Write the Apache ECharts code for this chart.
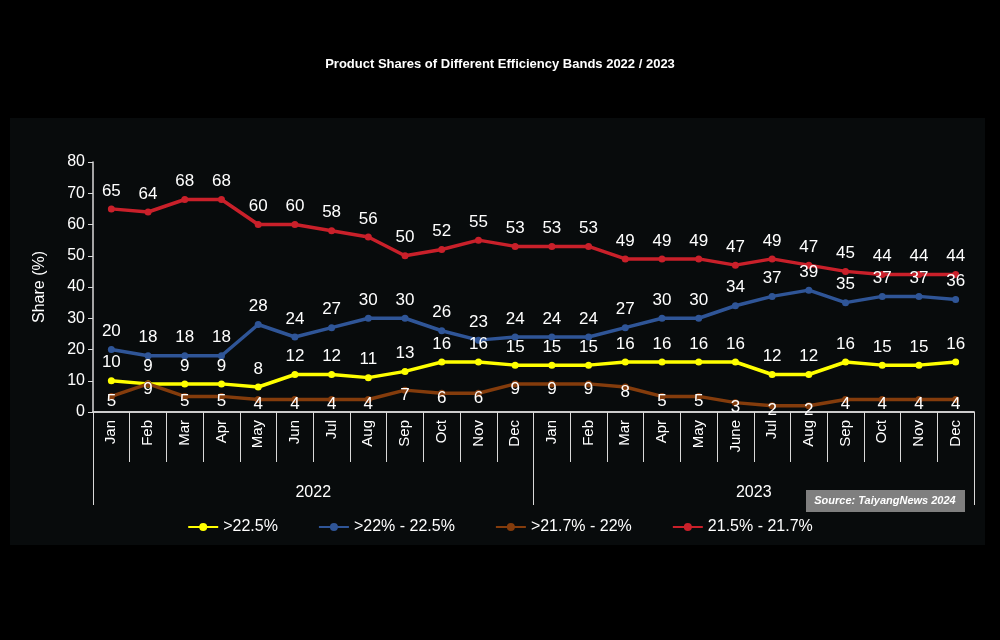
<!DOCTYPE html>
<html><head><meta charset="utf-8">
<script src="https://cdn.jsdelivr.net/npm/echarts@6/dist/echarts.min.js"></script>
<style>html,body{margin:0;background:#000}#c{width:1000px;height:640px}</style>
</head><body><div id="c"></div>
<script>
const months = ['Jan','Feb','Mar','Apr','May','Jun','Jul','Aug','Sep','Oct','Nov','Dec','Jan','Feb','Mar','Apr','May','June','Jul','Aug','Sep','Oct','Nov','Dec'];
const years = ['2022','2023'];
const yellow = [10,9,9,9,8,12,12,11,13,16,16,15,15,15,16,16,16,16,12,12,16,15,15,16];
const blue = [20,18,18,18,28,24,27,30,30,26,23,24,24,24,27,30,30,34,37,39,35,37,37,36];
const brown = [5,9,5,5,4,4,4,4,7,6,6,9,9,9,8,5,5,3,2,2,4,4,4,4];
const red = [65,64,68,68,60,60,58,56,50,52,55,53,53,53,49,49,49,47,49,47,45,44,44,44];
const names = ['>22.5%','>22% - 22.5%','>21.7% - 22%','21.5% - 21.7%'];
const colors = ['#ffff00','#2f5597','#843c0c','#c9202a'];
const lab = {show:true,color:'#fff',fontSize:17,fontFamily:'Liberation Sans'};
function s(i,d,pos,off){return {name:names[i],type:'line',data:d,color:colors[i],symbol:'circle',symbolSize:7,
 lineStyle:{width:3.5,color:colors[i]},itemStyle:{color:colors[i]},label:Object.assign({position:pos,distance:6,offset:off||[0,0]},lab)};}
const ch = echarts.init(document.getElementById('c'));
ch.setOption({
 backgroundColor:'#000',
 title:{text:'Product Shares of Different Efficiency Bands 2022 / 2023',left:'center',top:53,
  textStyle:{color:'#fff',fontSize:13,fontWeight:'bold',fontFamily:'Liberation Sans'}},
 graphic:[{type:'rect',z:-10,shape:{x:10,y:118,width:975,height:427},style:{fill:'#080b0c'}},
  {type:'rect',shape:{x:806,y:490,width:159,height:22},style:{fill:'#7f7f7f'}},
  {type:'text',x:885,y:501,style:{text:'Source: TaiyangNews 2024',fill:'#fff',font:'italic bold 11px Liberation Sans',align:'center',verticalAlign:'middle'}}],
 legend:{bottom:100,left:'center',itemGap:40,itemWidth:30,itemHeight:10,textStyle:{color:'#fff',fontSize:16,fontFamily:'Liberation Sans'},data:names},
 grid:{left:93,right:26,top:162,bottom:228},
 xAxis:[{type:'category',data:months,boundaryGap:true,
   axisLine:{lineStyle:{color:'#d9d9d9',width:1.5}},axisTick:{show:true,length:50,interval:0,lineStyle:{color:'#d9d9d9'}},
   axisLabel:{rotate:90,color:'#fff',fontSize:15,interval:0,fontFamily:'Liberation Sans',margin:8}},
  {type:'category',data:years,position:'bottom',boundaryGap:true,
   axisLine:{show:true,lineStyle:{color:'#d9d9d9',width:1.5}},axisTick:{show:true,length:93,interval:0,lineStyle:{color:'#d9d9d9'}},
   axisLabel:{color:'#fff',fontSize:16,margin:73,fontFamily:'Liberation Sans'}}],
 yAxis:{type:'value',min:0,max:80,interval:10,name:'Share (%)',nameLocation:'middle',nameGap:45,
  nameTextStyle:{color:'#fff',fontSize:16,fontFamily:'Liberation Sans'},
  axisLine:{show:true,lineStyle:{color:'#d9d9d9',width:1.5}},axisTick:{show:true,length:5,lineStyle:{color:'#d9d9d9'}},
  splitLine:{show:false},axisLabel:{color:'#fff',fontSize:16,fontFamily:'Liberation Sans'}},
 series:[s(0,yellow,'top'),s(1,blue,'top'),s(2,brown,'inside',[0,5]),s(3,red,'top')]
});
</script></body></html>
